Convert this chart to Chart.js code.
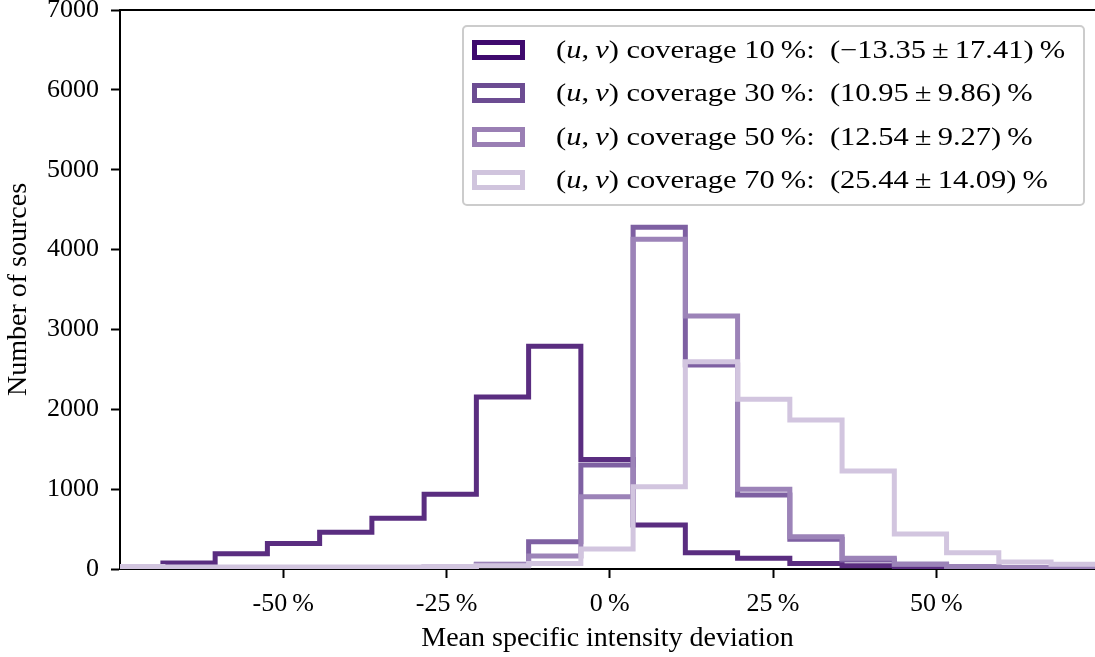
<!DOCTYPE html>
<html>
<head>
<meta charset="utf-8">
<script src="https://cdn.jsdelivr.net/npm/chart.js@4"></script>
<style>
  html, body { margin: 0; padding: 0; background: #fff; }
  #wrap { position: relative; width: 1095px; height: 657px; }
  #legend {
    position: absolute; left: 462px; top: 25px; width: 623px; height: 181px;
    box-sizing: border-box; border: 2px solid #cccccc; border-radius: 5px;
    background: rgba(255, 255, 255, 0.85);
    font-family: "Liberation Serif", serif; font-size: 25px; color: #000;
  }
  .row { position: absolute; left: 0; height: 30px; line-height: 30px; white-space: nowrap; }
  .patch { position: absolute; left: 8px; top: 5px; width: 53px; height: 20px; box-sizing: border-box; border: 5px solid; background: #fff; }
  .lbl { position: absolute; left: 92px; top: 0; transform: scaleX(1.22); transform-origin: left center; }
</style>
</head>
<body>
<div id="wrap">
  <canvas id="histChart" width="1095" height="657"></canvas>
  <div id="legend"></div>
</div>
<script>
// bin edges (percent) shared by all four histograms
const binEdges = [-76.43, -68.43, -60.43, -52.43, -44.43, -36.43, -28.43, -20.43, -12.43, -4.43,
  3.57, 11.57, 19.57, 27.57, 35.57, 43.57, 51.57, 59.57, 67.57, 75.57];

// counts per bin
const cov10 = [5, 75, 190, 320, 460, 635, 935, 2155, 2790, 1370, 550, 205, 135, 70, 40, 25, 12, 6, 3];
const cov30 = [5, 5, 8, 8, 10, 12, 20, 60, 342, 1302, 4280, 2554, 927, 372, 113, 58, 30, 15, 8];
const cov50 = [10, 10, 10, 12, 12, 15, 25, 55, 163, 905, 4130, 3168, 998, 405, 134, 58, 30, 15, 8];
const cov70 = [30, 25, 25, 25, 25, 25, 30, 40, 70, 250, 1031, 2596, 2125, 1866, 1227, 438, 205, 88, 58];

const seriesLabels = [
  "(<i>u</i>,&thinsp;<i>v</i>) coverage 10&thinsp;%:&nbsp; (&minus;13.35&thinsp;&plusmn;&thinsp;17.41)&thinsp;%",
  "(<i>u</i>,&thinsp;<i>v</i>) coverage 30&thinsp;%:&nbsp; (10.95&thinsp;&plusmn;&thinsp;9.86)&thinsp;%",
  "(<i>u</i>,&thinsp;<i>v</i>) coverage 50&thinsp;%:&nbsp; (12.54&thinsp;&plusmn;&thinsp;9.27)&thinsp;%",
  "(<i>u</i>,&thinsp;<i>v</i>) coverage 70&thinsp;%:&nbsp; (25.44&thinsp;&plusmn;&thinsp;14.09)&thinsp;%",
];
const lineColors = ["#5a2d80", "#7e60a2", "#9c83b8", "#d2c5df"];
const patchColors = ["#3f0a6e", "#6c4c92", "#9a7fb4", "#d0c4dd"];

const xTicks = [-50, -25, 0, 25, 50];
const yTicks = [0, 1000, 2000, 3000, 4000, 5000, 6000, 7000];

// step outline like matplotlib histtype="step"
function stepPoints(counts) {
  const pts = [{ x: binEdges[0], y: 0 }];
  counts.forEach((c, i) => pts.push({ x: binEdges[i], y: c }));
  const n = counts.length;
  pts.push({ x: binEdges[n], y: counts[n - 1] });
  pts.push({ x: binEdges[n], y: 0 });
  return pts;
}

const allCounts = [cov10, cov30, cov50, cov70];
const tickFont = { family: "Liberation Serif", size: 26 };
const titleFont = { family: "Liberation Serif", size: 28 };

const topSpine = {
  id: "topSpine",
  afterDraw(chart) {
    const { ctx, chartArea } = chart;
    ctx.save();
    ctx.strokeStyle = "#000";
    ctx.lineWidth = 2;
    ctx.beginPath();
    ctx.moveTo(chartArea.left - 1, chartArea.top);
    ctx.lineTo(chartArea.right, chartArea.top);
    ctx.stroke();
    ctx.restore();
  },
};

const ctx = document.getElementById("histChart").getContext("2d");
const histChart = new Chart(ctx, {
  type: "line",
  data: {
    datasets: allCounts.map((counts, i) => ({
      data: stepPoints(counts),
      borderColor: lineColors[i],
      borderWidth: 5,
      stepped: "before",
      pointRadius: 0,
      fill: false,
      order: allCounts.length - i, // later series drawn on top
      clip: { left: 0, right: 0, top: 0, bottom: 0 },
    })),
  },
  options: {
    responsive: false,
    animation: false,
    layout: { padding: { top: 10, left: 0, right: 0, bottom: 0 } },
    plugins: { legend: { display: false }, tooltip: { enabled: false } },
    scales: {
      x: {
        type: "linear",
        min: -75,
        max: 74.3,
        afterBuildTicks: (s) => { s.ticks = xTicks.map((v) => ({ value: v })); },
        afterFit: (s) => { s.height = 88; s.paddingLeft = 0; s.paddingRight = 0; },
        ticks: { color: "#000", font: tickFont, padding: 11, maxRotation: 0, callback: (v) => v + "\u2009%" },
        grid: { drawOnChartArea: false, drawTicks: true, tickLength: 9, tickWidth: 2, tickColor: "#000" },
        border: { display: true, color: "#000", width: 2 },
        title: { display: true, text: "Mean specific intensity deviation", color: "#000", font: titleFont, padding: { top: 0, bottom: 2 } },
      },
      y: {
        type: "linear",
        min: 0,
        max: 7000,
        afterBuildTicks: (s) => { s.ticks = yTicks.map((v) => ({ value: v })); },
        afterFit: (s) => { s.width = 120; s.paddingTop = 0; s.paddingBottom = 0; },
        ticks: { color: "#000", font: tickFont, padding: 12, callback: (v) => String(v) },
        grid: { drawOnChartArea: false, drawTicks: true, tickLength: 9, tickWidth: 2, tickColor: "#000" },
        border: { display: true, color: "#000", width: 2 },
        title: { display: true, text: "Number of sources", color: "#000", font: titleFont, padding: { top: 2, bottom: 0 } },
      },
    },
  },
  plugins: [topSpine],
});

// legend inside the plot, top right
const legendEl = document.getElementById("legend");
const rowTops = [8, 51, 95, 138];
seriesLabels.forEach((txt, i) => {
  const row = document.createElement("div");
  row.className = "row";
  row.style.top = rowTops[i] + "px";
  row.innerHTML = `<span class="patch" style="border-color:${patchColors[i]}"></span><span class="lbl">${txt}</span>`;
  legendEl.appendChild(row);
});
</script>
</body>
</html>
